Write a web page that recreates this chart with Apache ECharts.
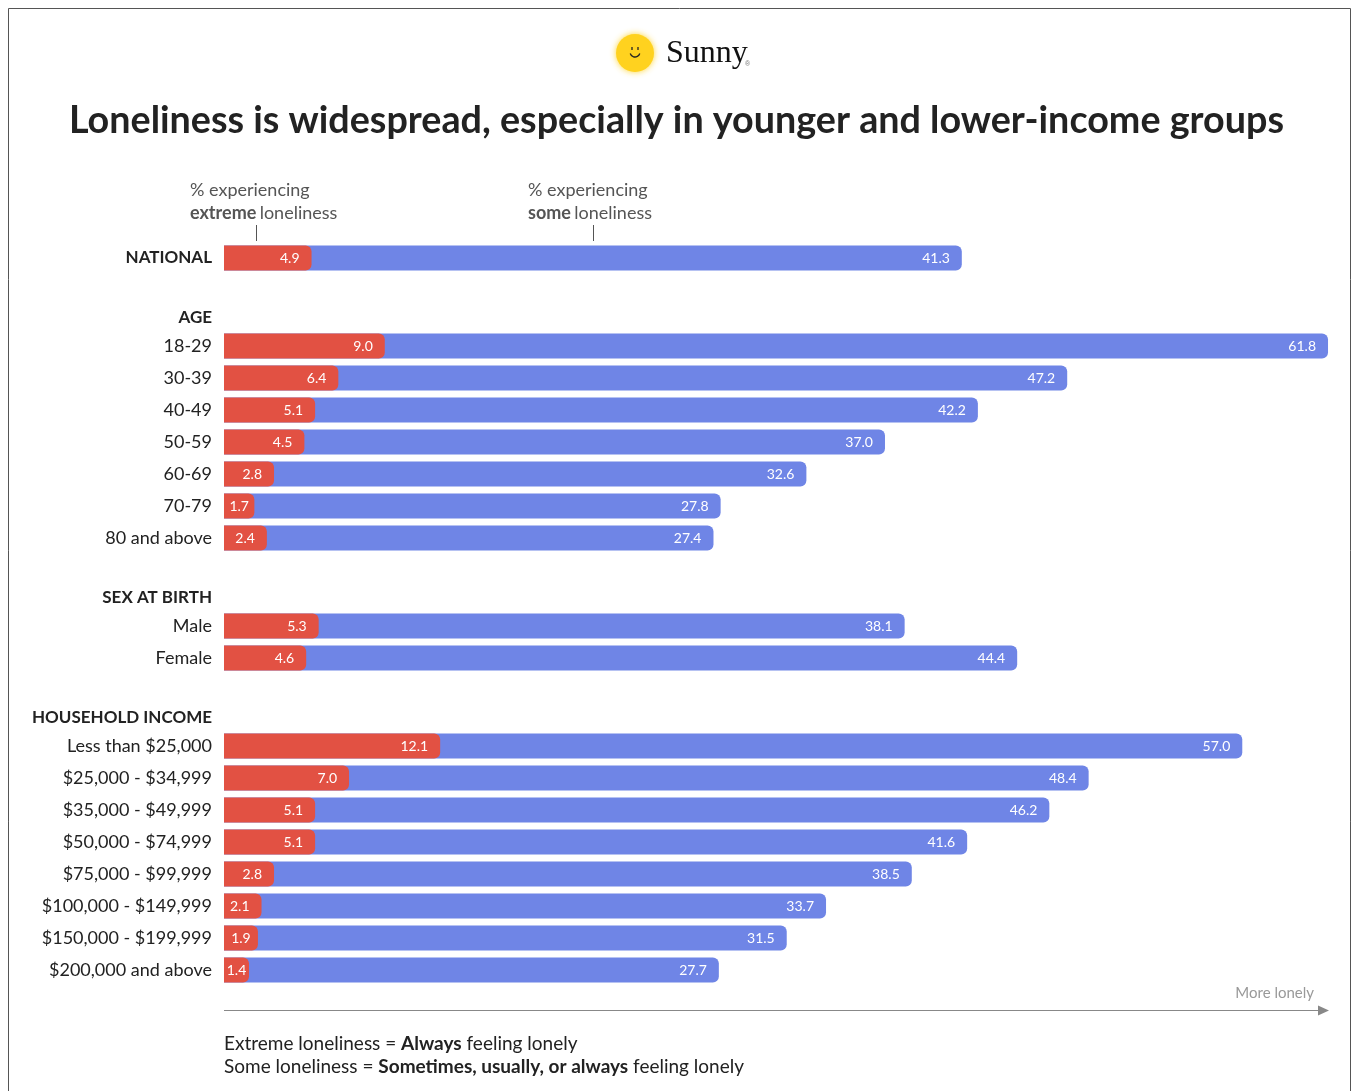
<!DOCTYPE html>
<html>
<head>
<meta charset="utf-8">
<script src="https://cdn.jsdelivr.net/npm/echarts@6/dist/echarts.min.js"></script>
<style>
  html, body { margin: 0; padding: 0; background: #fff; }
  #chart { width: 1353px; height: 1091px; }
</style>
</head>
<body>
<div id="chart"></div>
<script>
// Share of adults experiencing loneliness, by group (%)
const groupNames = ['NATIONAL', 'AGE', 'SEX AT BIRTH', 'HOUSEHOLD INCOME'];

const nationalCats = ['NATIONAL'];
const nationalSome = [41.3];
const nationalExtreme = [4.9];

const ageCats = ['18-29', '30-39', '40-49', '50-59', '60-69', '70-79', '80 and above'];
const ageSome = [61.8, 47.2, 42.2, 37.0, 32.6, 27.8, 27.4];
const ageExtreme = [9.0, 6.4, 5.1, 4.5, 2.8, 1.7, 2.4];

const sexCats = ['Male', 'Female'];
const sexSome = [38.1, 44.4];
const sexExtreme = [5.3, 4.6];

const incomeCats = ['Less than $25,000', '$25,000 - $34,999', '$35,000 - $49,999', '$50,000 - $74,999',
  '$75,000 - $99,999', '$100,000 - $149,999', '$150,000 - $199,999', '$200,000 and above'];
const incomeSome = [57.0, 48.4, 46.2, 41.6, 38.5, 33.7, 31.5, 27.7];
const incomeExtreme = [12.1, 7.0, 5.1, 5.1, 2.8, 2.1, 1.9, 1.4];

const FONT = 'Lato, "Noto Sans", sans-serif';
const RED = '#E25143';
const BLUE = '#6F85E6';
const ROW = 32;
const X_MAX = 62;
const LEFT = 224;
const RIGHT = 21.4;

// one grid per block of rows; all share the same horizontal scale
const blocks = [
  { cats: nationalCats, some: nationalSome, extreme: nationalExtreme, top: 242, bold: true },
  { cats: ageCats, some: ageSome, extreme: ageExtreme, top: 330 },
  { cats: sexCats, some: sexSome, extreme: sexExtreme, top: 610 },
  { cats: incomeCats, some: incomeSome, extreme: incomeExtreme, top: 730 }
];

const grids = [], xAxes = [], yAxes = [], series = [];
blocks.forEach((b, i) => {
  grids.push({ left: LEFT, right: RIGHT, top: b.top, height: b.cats.length * ROW });
  xAxes.push({
    type: 'value', gridIndex: i, min: 0, max: X_MAX, show: false
  });
  yAxes.push({
    type: 'category', gridIndex: i, data: b.cats, inverse: true,
    axisLine: { show: false }, axisTick: { show: false }, splitLine: { show: false },
    axisLabel: {
      margin: 12, fontFamily: FONT, fontSize: b.bold ? 17 : 18, color: '#222',
      fontWeight: b.bold ? 'bold' : 'normal', padding: [4, 0, 0, 0]
    }
  });
  const label = (pos) => ({
    show: true, fontFamily: FONT, fontSize: 14, color: '#fff',
    position: pos, distance: 12, padding: [2, 0, 0, 0],
    formatter: (p) => p.value.toFixed(1)
  });
  series.push({
    type: 'bar', xAxisIndex: i, yAxisIndex: i, barWidth: 25, barGap: '-100%', z: 2,
    itemStyle: { color: BLUE, borderRadius: [0, 6, 6, 0] },
    label: label('insideRight'),
    data: b.some
  });
  series.push({
    type: 'bar', xAxisIndex: i, yAxisIndex: i, barWidth: 25, barGap: '-100%', z: 3,
    itemStyle: { color: RED, borderRadius: [0, 6, 6, 0] },
    label: label('insideRight'),
    data: b.extreme.map(v => ({
      value: v,
      label: v < 2 ? { position: 'inside' } : undefined
    }))
  });
});

// block headings sit just above the first row of each block
const headingGraphics = groupNames.slice(1).map((name, k) => ({
  type: 'text', right: 1353 - 212, top: blocks[k + 1].top - 21,
  style: { text: name, font: 'bold 17px ' + FONT, fill: '#222', textAlign: 'right' }
}));

const richNote = {
  b: { fontFamily: FONT, fontSize: 18, fontWeight: 'bold', fill: '#555' },
  n: { fontFamily: FONT, fontSize: 18, fill: '#555' }
};
const richFoot = {
  b: { fontFamily: FONT, fontSize: 19, fontWeight: 'bold', fill: '#222' },
  n: { fontFamily: FONT, fontSize: 19, fill: '#222' }
};

const chart = echarts.init(document.getElementById('chart'), null, { renderer: 'canvas' });
chart.setOption({
  animation: false,
  backgroundColor: '#fff',
  grid: grids,
  xAxis: xAxes,
  yAxis: yAxes,
  series: series,
  graphic: [
    // frame
    { type: 'rect', shape: { x: 8.5, y: 8.5, width: 1342, height: 1100 },
      style: { fill: 'none', stroke: '#555', lineWidth: 1 }, silent: true },
    // sun logo
    { type: 'circle', shape: { cx: 635, cy: 53, r: 19 },
      style: { fill: '#FFD21F', shadowBlur: 6, shadowColor: 'rgba(255,210,31,0.9)' } },
    { type: 'line', shape: { x1: 632, y1: 47, x2: 632, y2: 50 }, style: { stroke: '#222', lineWidth: 1.3 } },
    { type: 'line', shape: { x1: 638, y1: 47, x2: 638, y2: 50 }, style: { stroke: '#222', lineWidth: 1.3 } },
    { type: 'arc', shape: { cx: 635, cy: 52, r: 5, startAngle: 0.3, endAngle: Math.PI - 0.3 },
      style: { stroke: '#222', lineWidth: 1.3, fill: 'none' } },
    { type: 'text', left: 666, top: 38,
      style: { text: 'Sunny', font: '32px "Liberation Serif", "DejaVu Serif", serif', fill: '#111' } },
    { type: 'text', left: 745, top: 61,
      style: { text: '®', font: '7px sans-serif', fill: '#777' } },
    // title
    { type: 'text', left: 'center', top: 102,
      style: { text: 'Loneliness is widespread, especially in younger and lower-income groups',
        font: 'bold 37.7px ' + FONT, fill: '#222' } },
    // series notes with pointer ticks
    { type: 'text', left: 190, top: 179,
      style: { text: '{n|% experiencing}\n{b|extreme} {n|loneliness}', rich: richNote, lineHeight: 23 } },
    { type: 'line', shape: { x1: 256.5, y1: 225, x2: 256.5, y2: 241 }, style: { stroke: '#555', lineWidth: 1 } },
    { type: 'text', left: 528, top: 179,
      style: { text: '{n|% experiencing}\n{b|some} {n|loneliness}', rich: richNote, lineHeight: 23 } },
    { type: 'line', shape: { x1: 593.5, y1: 225, x2: 593.5, y2: 241 }, style: { stroke: '#555', lineWidth: 1 } },
    ...headingGraphics,
    // direction arrow
    { type: 'line', shape: { x1: LEFT, y1: 1010.5, x2: 1320, y2: 1010.5 }, style: { stroke: '#888', lineWidth: 1.2 } },
    { type: 'polygon', shape: { points: [[1318, 1005.5], [1329, 1010.5], [1318, 1015.5]] }, style: { fill: '#888' } },
    { type: 'text', right: 1353 - 1314, top: 986,
      style: { text: 'More lonely', font: '15px ' + FONT, fill: '#999', textAlign: 'right' } },
    // definitions
    { type: 'text', left: LEFT, top: 1034,
      style: { text: '{n|Extreme loneliness = }{b|Always}{n| feeling lonely}', rich: richFoot } },
    { type: 'text', left: LEFT, top: 1057,
      style: { text: '{n|Some loneliness = }{b|Sometimes, usually, or always}{n| feeling lonely}', rich: richFoot } }
  ]
});
</script>
</body>
</html>
